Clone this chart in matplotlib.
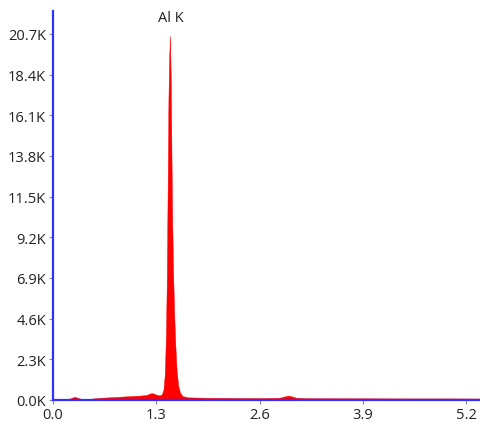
import matplotlib.pyplot as plt

# EDS spectrum, energy in keV and counts per channel
energy = [0.06, 0.15, 0.22, 0.25, 0.28, 0.31, 0.36, 0.45, 0.55, 0.70, 0.85,
          1.00, 1.10, 1.18, 1.22, 1.25, 1.28, 1.32, 1.35, 1.37, 1.39, 1.405,
          1.42, 1.432, 1.442, 1.452, 1.462, 1.472, 1.48, 1.49, 1.50, 1.512,
          1.525, 1.54, 1.555, 1.575, 1.60, 1.63, 1.70, 1.90, 2.20, 2.60,
          2.85, 2.92, 2.96, 3.00, 3.06, 3.20, 3.60, 4.00, 4.50, 5.00, 5.38]
counts = [50, 60, 90, 150, 180, 120, 60, 60, 110, 150, 190,
          225, 250, 290, 370, 390, 340, 270, 270, 330, 600, 1400,
          3500, 7000, 12000, 17000, 19500, 20600, 18500, 14000, 10000, 7000,
          4800, 3000, 1700, 800, 400, 220, 150, 130, 120, 110,
          130, 210, 250, 210, 130, 105, 100, 95, 90, 90, 85]

y_ticks = [0, 2300, 4600, 6900, 9200, 11500, 13800, 16100, 18400, 20700]
x_ticks = [0.0, 1.3, 2.6, 3.9, 5.2]
peak_label = "Al K"
peak_energy = 1.486
peak_counts = 20600

plt.rcParams['font.family'] = ['Open Sans', 'DejaVu Sans']

fig = plt.figure(figsize=(4.81, 4.27), dpi=100)
ax = fig.add_axes([53 / 481, 26 / 427, 1 - 53 / 481, (401 - 12) / 427])

ax.fill_between(energy, counts, 0, color='#ff0000', linewidth=0.3)

ax.set_xlim(0, 5.384)
ax.set_ylim(0, 22000)
ax.set_xticks(x_ticks)
ax.set_xticklabels([f'{v:.1f}' for v in x_ticks])
ax.set_yticks(y_ticks)
ax.set_yticklabels([f'{v / 1000:.1f}K' for v in y_ticks])

for side in ['top', 'right']:
    ax.spines[side].set_visible(False)
for side in ['left', 'bottom']:
    ax.spines[side].set_color('#3030ff')
    ax.spines[side].set_linewidth(1.6)

ax.tick_params(axis='both', length=3, width=0.8, color='#888888',
               labelcolor='#222222', labelsize=10.5, pad=2)

ax.annotate(peak_label, xy=(peak_energy, peak_counts), xytext=(0, 8),
            textcoords='offset points', ha='center', va='bottom',
            fontsize=10.5, color='#222222')

fig.savefig('out.png', dpi=100)
